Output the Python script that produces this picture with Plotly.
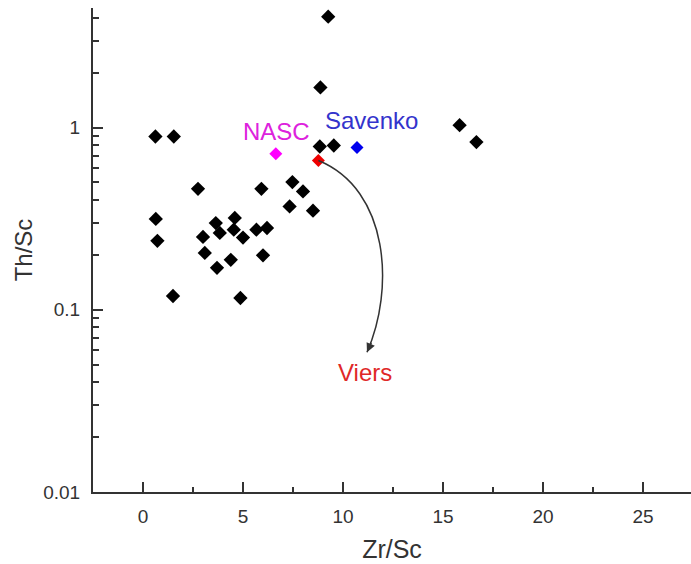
import numpy as np
import plotly.graph_objects as go

# Sample data (Zr/Sc vs Th/Sc)
zr_sc = [0.62, 1.54, 2.75, 5.92, 7.47, 8.0, 7.33, 8.5, 0.64, 0.72,
         3.64, 4.59, 3.84, 4.54, 5.0, 3.0, 5.67, 6.2, 3.09, 6.0,
         4.39, 3.7, 1.5, 4.87, 9.26, 8.87, 8.84, 9.54, 15.83, 16.67]
th_sc = [0.893, 0.893, 0.461, 0.461, 0.502, 0.446, 0.369, 0.350, 0.315, 0.239,
         0.299, 0.319, 0.264, 0.275, 0.249, 0.251, 0.275, 0.281, 0.205, 0.199,
         0.188, 0.170, 0.119, 0.116, 4.06, 1.66, 0.787, 0.797, 1.03, 0.832]

# Reference compositions
ref_names = ["NASC", "Savenko", "Viers"]
ref_zr_sc = [6.64, 10.7, 8.77]
ref_th_sc = [0.718, 0.777, 0.659]
ref_colors = ["#ff00ff", "#0000ee", "#ee0000"]
label_colors = ["#dd22dd", "#3333cc", "#e02828"]
label_x = [6.67, 11.42, 11.08]
label_y = [0.95, 1.09, 0.0455]

# Curved arrow (Viers) control points in data units
curve_x = [8.77, 12.33, 12.58, 11.2]
curve_y = [0.659, 0.456, 0.129, 0.0585]

fig = go.Figure()
fig.add_trace(go.Scatter(
    x=zr_sc, y=th_sc, mode="markers",
    marker=dict(symbol="diamond", size=11, color="black"),
    showlegend=False, hoverinfo="x+y"))
for i in range(3):
    fig.add_trace(go.Scatter(
        x=[ref_zr_sc[i]], y=[ref_th_sc[i]], mode="markers",
        marker=dict(symbol="diamond", size=10, color=ref_colors[i]),
        showlegend=False, name=ref_names[i]))

path = (f"M {curve_x[0]},{curve_y[0]} C {curve_x[1]},{curve_y[1]} "
        f"{curve_x[2]},{curve_y[2]} {curve_x[3]},{curve_y[3]}")
fig.add_shape(type="path", path=path, xref="x", yref="y",
              line=dict(color="#333333", width=1.5))
fig.add_annotation(x=curve_x[3], y=np.log10(curve_y[3]), xref="x", yref="y",
                   ax=5, ay=-11, showarrow=True, arrowhead=2, arrowsize=1.2,
                   arrowwidth=1.5, arrowcolor="#333333", text="")

for i in range(3):
    fig.add_annotation(x=label_x[i], y=np.log10(label_y[i]), xref="x", yref="y",
                       text=ref_names[i], showarrow=False,
                       font=dict(size=24, color=label_colors[i],
                                 family="Liberation Sans, Arial, sans-serif"))

axis_font = dict(family="Liberation Sans, Arial, sans-serif", size=19, color="#333333")
fig.update_layout(
    width=691, height=564,
    margin=dict(l=93, r=0, t=8, b=72),
    paper_bgcolor="white", plot_bgcolor="white",
    font=axis_font,
    xaxis=dict(
        range=[-2.5, 27.4], tick0=0, dtick=5, ticks="inside", ticklen=10,
        tickwidth=1.5, tickcolor="#333333",
        showline=True, linecolor="#333333", linewidth=2,
        showgrid=False, zeroline=False, tickfont=axis_font,
        minor=dict(ticks="inside", ticklen=5, dtick=2.5, tick0=0,
                   tickcolor="#333333", tickwidth=1.5, showgrid=False),
        title=dict(text="Zr/Sc", font=dict(size=25, color="#333333"), standoff=15),
        automargin=False, ticklabelstandoff=6),
    yaxis=dict(
        type="log", range=[-2, 0.656], dtick=1, ticks="inside", ticklen=10,
        tickwidth=1.5, tickcolor="#333333",
        showline=True, linecolor="#333333", linewidth=2,
        showgrid=False, zeroline=False, tickfont=axis_font,
        minor=dict(ticks="inside", ticklen=6, dtick="D1",
                   tickcolor="#333333", tickwidth=1.5, showgrid=False),
        title=dict(text="Th/Sc", font=dict(size=24, color="#333333"), standoff=4),
        automargin=False, ticklabelstandoff=7),
)

fig.write_html("out.html")
